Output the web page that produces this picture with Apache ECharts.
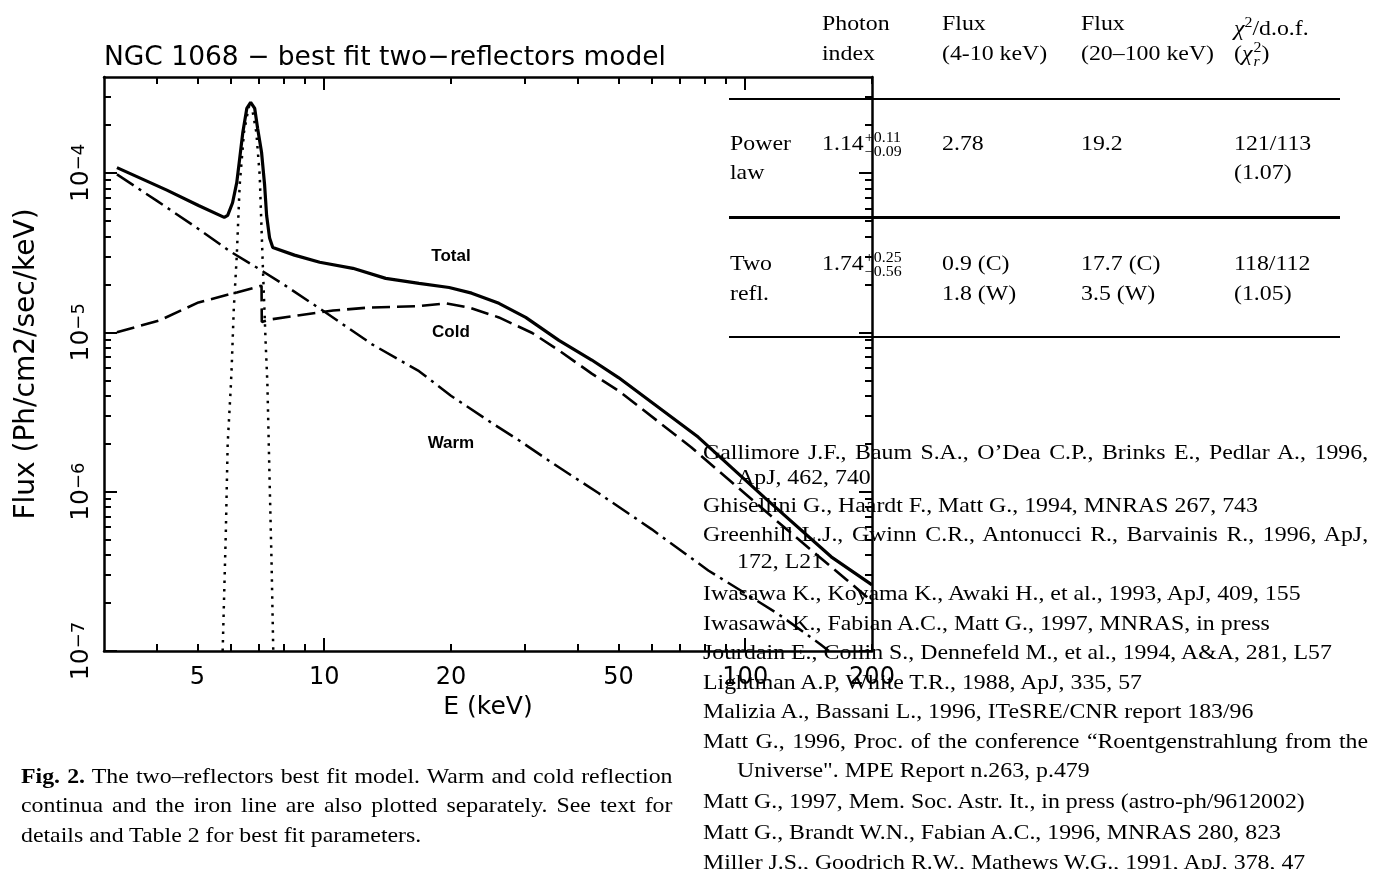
<!DOCTYPE html>
<html>
<head>
<meta charset="utf-8">
<script src="https://cdn.jsdelivr.net/npm/echarts@6/dist/echarts.min.js"></script>
<style>
  html, body { margin: 0; padding: 0; background: #fff; }
  #page { position: relative; width: 1380px; height: 869px; overflow: hidden; }
  #chart { position: absolute; left: 0; top: 0; width: 1380px; height: 869px; }
  .t { position: absolute; font-family: "Liberation Serif", "Times New Roman", serif; font-size: 21px; line-height: 30px; color: #000; white-space: nowrap; transform: scaleX(1.135); transform-origin: 0 0; }
  .j { text-align: justify; text-align-last: justify; white-space: normal; }
  .rule { position: absolute; left: 729px; width: 611px; background: #000; }
  .ss { display: inline-block; vertical-align: middle; font-size: 14px; line-height: 14px; margin-left: 1px; }
  .ss span { display: block; }
  .sup2 { font-size: 14px; vertical-align: 8px; }
</style>
</head>
<body>
<div id="page">
  <div id="chart"></div>

  <!-- table -->
  <div class="t" style="left:822px;top:8px">Photon</div>
  <div class="t" style="left:822px;top:38px">index</div>
  <div class="t" style="left:942px;top:8px">Flux</div>
  <div class="t" style="left:942px;top:38px">(4-10 keV)</div>
  <div class="t" style="left:1081px;top:8px">Flux</div>
  <div class="t" style="left:1081px;top:38px">(20–100 keV)</div>
  <div class="t" style="left:1234px;top:8px"><i>χ</i><span class="sup2">2</span>/d.o.f.</div>
  <div class="t" style="left:1234px;top:38px">(<i>χ</i><span class="ss"><span>2</span><span><i>r</i></span></span>)</div>
  <div class="rule" style="top:98px;height:2px"></div>

  <div class="t" style="left:730px;top:128px">Power</div>
  <div class="t" style="left:730px;top:157px">law</div>
  <div class="t" style="left:822px;top:128px">1.14<span class="ss"><span>+0.11</span><span>−0.09</span></span></div>
  <div class="t" style="left:942px;top:128px">2.78</div>
  <div class="t" style="left:1081px;top:128px">19.2</div>
  <div class="t" style="left:1234px;top:128px">121/113</div>
  <div class="t" style="left:1234px;top:157px">(1.07)</div>
  <div class="rule" style="top:216px;height:3px"></div>

  <div class="t" style="left:730px;top:248px">Two</div>
  <div class="t" style="left:730px;top:278px">refl.</div>
  <div class="t" style="left:822px;top:248px">1.74<span class="ss"><span>+0.25</span><span>−0.56</span></span></div>
  <div class="t" style="left:942px;top:248px">0.9 (C)</div>
  <div class="t" style="left:942px;top:278px">1.8 (W)</div>
  <div class="t" style="left:1081px;top:248px">17.7 (C)</div>
  <div class="t" style="left:1081px;top:278px">3.5 (W)</div>
  <div class="t" style="left:1234px;top:248px">118/112</div>
  <div class="t" style="left:1234px;top:278px">(1.05)</div>
  <div class="rule" style="top:336px;height:2px"></div>

  <!-- references -->
  <div class="t j" style="left:703px;top:437px;width:586px">Gallimore J.F., Baum S.A., O’Dea C.P., Brinks E., Pedlar A., 1996,</div>
  <div class="t" style="left:737px;top:462px">ApJ, 462, 740</div>
  <div class="t" style="left:703px;top:490px">Ghisellini G., Haardt F., Matt G., 1994, MNRAS 267, 743</div>
  <div class="t j" style="left:703px;top:519px;width:586px">Greenhill L.J., Gwinn C.R., Antonucci R., Barvainis R., 1996, ApJ,</div>
  <div class="t" style="left:737px;top:546px">172, L21</div>
  <div class="t" style="left:703px;top:578px">Iwasawa K., Koyama K., Awaki H., et al., 1993, ApJ, 409, 155</div>
  <div class="t" style="left:703px;top:608px">Iwasawa K., Fabian A.C., Matt G., 1997, MNRAS, in press</div>
  <div class="t" style="left:703px;top:637px">Jourdain E., Collin S., Dennefeld M., et al., 1994, A&amp;A, 281, L57</div>
  <div class="t" style="left:703px;top:667px">Lightman A.P, White T.R., 1988, ApJ, 335, 57</div>
  <div class="t" style="left:703px;top:696px">Malizia A., Bassani L., 1996, ITeSRE/CNR report 183/96</div>
  <div class="t j" style="left:703px;top:726px;width:586px">Matt G., 1996, Proc. of the conference “Roentgenstrahlung from the</div>
  <div class="t" style="left:737px;top:755px">Universe". MPE Report n.263, p.479</div>
  <div class="t" style="left:703px;top:786px">Matt G., 1997, Mem. Soc. Astr. It., in press (astro-ph/9612002)</div>
  <div class="t" style="left:703px;top:817px">Matt G., Brandt W.N., Fabian A.C., 1996, MNRAS 280, 823</div>
  <div class="t" style="left:703px;top:847px">Miller J.S., Goodrich R.W., Mathews W.G., 1991, ApJ, 378, 47</div>

  <!-- caption -->
  <div class="t j" style="left:21px;top:761px;width:574px"><b>Fig. 2.</b> The two–reflectors best fit model. Warm and cold reflection</div>
  <div class="t j" style="left:21px;top:790px;width:574px">continua and the iron line are also plotted separately. See text for</div>
  <div class="t" style="left:21px;top:820px">details and Table 2 for best fit parameters.</div>
</div>

<script>
// energies (keV) and model fluxes (Ph/cm2/sec/keV)
const totalE = [3.22, 4.23, 5.03, 5.79, 5.90, 6.06, 6.20, 6.30, 6.41, 6.55, 6.69, 6.84, 6.95, 7.10, 7.22, 7.30, 7.42, 7.55, 8.5, 9.76, 11.7, 14.0, 16.8, 19.8, 22.4, 26.0, 30.1, 36.1, 43.2, 50, 77.3, 111, 160, 200];
const totalF = [1.08e-4, 7.8e-5, 6.25e-5, 5.26e-5, 5.42e-5, 6.5e-5, 8.7e-5, 1.23e-4, 1.80e-4, 2.54e-4, 2.77e-4, 2.54e-4, 1.90e-4, 1.35e-4, 8.4e-5, 5.4e-5, 3.9e-5, 3.4e-5, 3.05e-5, 2.75e-5, 2.52e-5, 2.18e-5, 2.03e-5, 1.91e-5, 1.76e-5, 1.52e-5, 1.24e-5, 8.9e-6, 6.7e-6, 5.2e-6, 2.2e-6, 9.2e-7, 3.9e-7, 2.6e-7];

const coldE = [3.22, 4.07, 5.03, 6.2, 7.10, 7.11, 7.4, 8.74, 10.5, 12.8, 16.8, 19.5, 22.1, 26, 31.2, 36.1, 43.2, 50, 74.4, 120, 174, 200];
const coldF = [1.0e-5, 1.19e-5, 1.54e-5, 1.78e-5, 1.96e-5, 1.16e-5, 1.2e-5, 1.28e-5, 1.37e-5, 1.43e-5, 1.46e-5, 1.52e-5, 1.43e-5, 1.24e-5, 9.9e-6, 7.7e-6, 5.5e-6, 4.3e-6, 1.9e-6, 6.4e-7, 2.8e-7, 2.05e-7];

const warmE = [3.22, 4, 5, 6, 7, 8, 10, 13, 16.8, 20, 25, 29, 35, 44.8, 60, 81.7, 100, 120, 151, 158];
const warmF = [9.8e-5, 6.7e-5, 4.5e-5, 3.2e-5, 2.5e-5, 2.0e-5, 1.35e-5, 8.4e-6, 5.7e-6, 4.0e-6, 2.7e-6, 2.1e-6, 1.5e-6, 9.8e-7, 5.8e-7, 3.2e-7, 2.3e-7, 1.7e-7, 1.1e-7, 1.0e-7];

const ironE = [5.74, 5.84, 5.90, 6.00, 6.03, 6.10, 6.20, 6.30, 6.45, 6.62, 6.75, 6.90, 7.03, 7.14, 7.26, 7.33, 7.42, 7.50, 7.57];
const ironF = [1.0e-7, 5.5e-7, 2.0e-6, 4.5e-6, 6.0e-6, 1.4e-5, 3.0e-5, 8.4e-5, 1.8e-4, 2.6e-4, 2.5e-4, 1.8e-4, 9.6e-5, 2.9e-5, 8.7e-6, 4.8e-6, 1.18e-6, 3.6e-7, 1.0e-7];

// curve labels: [E, flux, text]
const curveLabels = [[20, 3.0e-5, 'Total'], [20, 1.0e-5, 'Cold'], [20, 2.0e-6, 'Warm']];

// axis ticks
const xLabelValues = [5, 10, 20, 50, 100, 200];
const xMajorTicks = [10, 100];
const xMinorTicks = [4, 5, 6, 7, 8, 9, 20, 30, 40, 50, 60, 70, 80, 90, 200];
const yMajorTicks = [1e-7, 1e-6, 1e-5, 1e-4];
const yMinorTicks = [2e-7, 3e-7, 4e-7, 5e-7, 6e-7, 7e-7, 8e-7, 9e-7,
  2e-6, 3e-6, 4e-6, 5e-6, 6e-6, 7e-6, 8e-6, 9e-6,
  2e-5, 3e-5, 4e-5, 5e-5, 6e-5, 7e-5, 8e-5, 9e-5,
  2e-4, 3e-4];

const FONT = '"DejaVu Sans", Verdana, sans-serif';
const X_RANGE = [3, 200];
const Y_RANGE = [1e-7, 4e-4];

function pairs(xs, ys) { return xs.map((x, i) => [x, ys[i]]) }

function frameAxis(dim, position, ticks, len, withLine) {
  const range = dim === 'x' ? X_RANGE : Y_RANGE;
  return {
    type: 'log', logBase: 10, position,
    min: range[0], max: range[1],
    axisLine: { show: withLine, onZero: false, lineStyle: { color: '#000', width: 2.5 } },
    axisTick: { show: true, inside: true, length: len, customValues: ticks, lineStyle: { color: '#000', width: 2 } },
    axisLabel: { show: false },
    splitLine: { show: false },
    minorTick: { show: false },
  };
}

const chart = echarts.init(document.getElementById('chart'), null, { renderer: 'canvas' });

const xMain = frameAxis('x', 'bottom', xMajorTicks, 13, true);
xMain.axisLabel = {
  show: true, customValues: xLabelValues, margin: 15,
  color: '#000', fontFamily: FONT, fontSize: 24,
  formatter: (v) => String(Math.round(v)),
};
xMain.name = 'E (keV)';
xMain.nameLocation = 'middle';
xMain.nameGap = 44;
xMain.nameTextStyle = { color: '#000', fontFamily: FONT, fontSize: 25 };

const yMain = frameAxis('y', 'left', yMajorTicks, 13, true);
yMain.axisLabel = {
  show: true, customValues: yMajorTicks, rotate: 90, margin: 10,
  formatter: (v) => '{b|10}{e|−' + Math.round(-Math.log10(v)) + '}',
  rich: {
    b: { color: '#000', fontFamily: FONT, fontSize: 25, lineHeight: 24, verticalAlign: 'bottom' },
    e: { color: '#000', fontFamily: FONT, fontSize: 18, lineHeight: 20, verticalAlign: 'top' },
  },
};
yMain.name = 'Flux (Ph/cm2/sec/keV)';
yMain.nameLocation = 'middle';
yMain.nameGap = 63;
yMain.nameTextStyle = { color: '#000', fontFamily: FONT, fontSize: 28 };

const option = {
  animation: false,
  backgroundColor: 'transparent',
  title: {
    text: 'NGC 1068 − best fit two−reflectors model',
    left: 99, top: 40,
    textStyle: { color: '#000', fontFamily: FONT, fontSize: 26.5, fontWeight: 'normal' },
  },
  grid: { left: 104, right: 508, top: 77, bottom: 218, containLabel: false, outerBoundsMode: 'none' },
  xAxis: [
    xMain,
    frameAxis('x', 'bottom', xMinorTicks, 7, false),
    frameAxis('x', 'top', xMajorTicks, 13, true),
    frameAxis('x', 'top', xMinorTicks, 7, false),
  ],
  yAxis: [
    yMain,
    frameAxis('y', 'left', yMinorTicks, 7, false),
    frameAxis('y', 'right', yMajorTicks, 13, true),
    frameAxis('y', 'right', yMinorTicks, 7, false),
  ],
  series: [
    {
      name: 'Iron line', type: 'line', data: pairs(ironE, ironF),
      showSymbol: false, clip: true,
      lineStyle: { color: '#000', width: 2.5, type: [2.5, 6] },
    },
    {
      name: 'Warm', type: 'line', data: pairs(warmE, warmF),
      showSymbol: false, clip: true,
      lineStyle: { color: '#000', width: 2.5, type: [20, 6, 3, 6] },
    },
    {
      name: 'Cold', type: 'line', data: pairs(coldE, coldF),
      showSymbol: false, clip: true,
      lineStyle: { color: '#000', width: 2.6, type: [18, 7] },
    },
    {
      name: 'Total', type: 'line', data: pairs(totalE, totalF),
      showSymbol: false, clip: true,
      lineStyle: { color: '#000', width: 3.2, type: 'solid' },
    },
    {
      name: 'labels', type: 'scatter', data: curveLabels,
      symbolSize: 0, silent: true,
      itemStyle: { color: '#000', opacity: 1 },
      label: {
        show: true, position: 'inside', formatter: (p) => p.data[2],
        color: '#000', opacity: 1, textBorderWidth: 0,
        fontFamily: '"Liberation Sans", Arial, sans-serif', fontSize: 17, fontWeight: 'bold',
      },
    },
  ],
};

chart.setOption(option);
</script>
</body>
</html>
